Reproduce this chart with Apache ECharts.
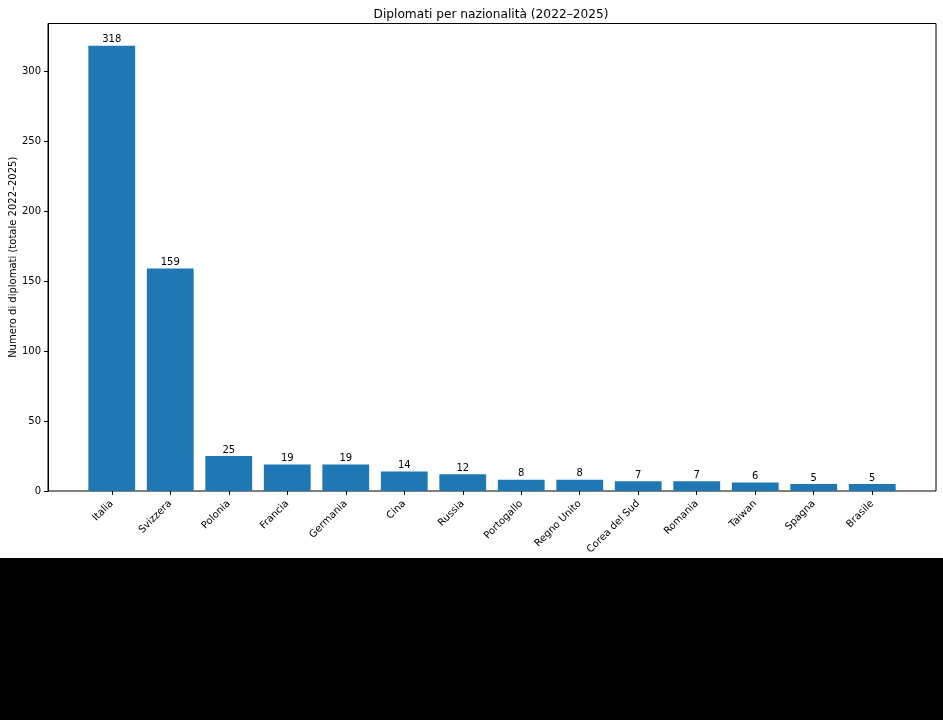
<!DOCTYPE html>
<html><head><meta charset="utf-8">
<script src="https://cdn.jsdelivr.net/npm/echarts@6/dist/echarts.min.js"></script>
<style>html,body{margin:0;padding:0;background:#000;}#c{width:943px;height:558px;background:#fff;}</style>
</head><body><div id="c"></div>
<script>
const categories = ["Italia","Svizzera","Polonia","Francia","Germania","Cina","Russia","Portogallo","Regno Unito","Corea del Sud","Romania","Taiwan","Spagna","Brasile"];
const values = [318,159,25,19,19,14,12,8,8,7,7,6,5,5];
const yTicks = [0,50,100,150,200,250,300];

const yMax = Math.max(...values) * 1.05;
const font = 'DejaVu Sans';
const chart = echarts.init(document.getElementById('c'), null, {renderer:'canvas'});
// matplotlib-style x limits: bars width 0.8, 5% margins
const n = categories.length;
const dataSpan = (n - 1) + 0.8;
const xMin = -0.4 - 0.05 * dataSpan, xMax = (n - 1) + 0.4 + 0.05 * dataSpan;
const gLeft = 48, gWidth = 888, gTop = 23.5, gHeight = 467.5;
const unit = gWidth / (xMax - xMin);
const innerLeft = gLeft + (-0.5 - xMin) * unit;
const innerWidth = n * unit;

chart.setOption({
  animation:false,
  title:{text:'Diplomati per nazionalità (2022–2025)', left:gLeft + gWidth/2 - 6, textAlign:'center', top:4,
    textStyle:{fontFamily:font, fontSize:12.2, fontWeight:'normal', color:'#000'}},
  grid:[
    {left:gLeft, top:gTop, width:gWidth, height:gHeight, show:true, borderColor:'#000', borderWidth:1,
      backgroundColor:'transparent', containLabel:false, outerBoundsMode:'none'},
    {left:innerLeft, top:gTop, width:innerWidth, height:gHeight, containLabel:false, outerBoundsMode:'none'}
  ],
  xAxis:[
    {type:'value', gridIndex:0, min:0, max:1, show:false},
    {type:'category', gridIndex:1, data:categories,
      axisLine:{show:false},
      axisTick:{show:true, alignWithLabel:true, length:4, lineStyle:{color:'#000'}},
      axisLabel:{rotate:45, interval:0, fontFamily:font, fontSize:10, color:'#000', margin:11}}
  ],
  yAxis:[
    {type:'value', gridIndex:0, min:0, max:yMax, interval:50,
      name:'Numero di diplomati (totale 2022–2025)', nameLocation:'middle', nameGap:30,
      nameMoveOverlap:false,
      nameTextStyle:{fontFamily:font, fontSize:10, color:'#000'},
      axisLine:{show:true, lineStyle:{color:'#000'}},
      axisTick:{show:true, length:4, lineStyle:{color:'#000'}, customValues:yTicks},
      axisLabel:{fontFamily:font, fontSize:10, color:'#000', margin:7, customValues:yTicks},
      splitLine:{show:false}},
    {type:'value', gridIndex:1, min:0, max:yMax, show:false}
  ],
  series:[{
    type:'bar', xAxisIndex:1, yAxisIndex:1, data:values, barWidth:'80%',
    itemStyle:{color:'#1f77b4'},
    label:{show:true, position:'top', distance:1, fontFamily:font, fontSize:10, color:'#000'}
  }]
});
</script></body></html>
